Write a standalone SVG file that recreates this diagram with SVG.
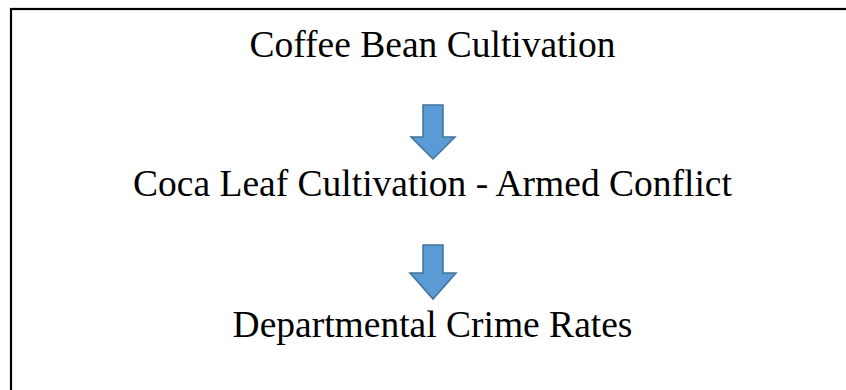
<svg xmlns="http://www.w3.org/2000/svg" width="846" height="390" viewBox="0 0 846 390">
<style>
.t{font-family:"Liberation Serif","Times New Roman",serif;font-size:37.5px;fill:#000;text-anchor:middle}
.arr{fill:#5B9BD5;stroke:#41719C;stroke-width:1.5;stroke-linejoin:miter}
</style>
<rect width="846" height="390" fill="#fff"/>
<rect x="11" y="9" width="850" height="400" fill="none" stroke="#000" stroke-width="2.2"/>
<g id="n1"><text class="t" x="432.5" y="57">Coffee Bean Cultivation</text></g>
<g id="n2"><text class="t" x="432.5" y="196">Coca Leaf Cultivation - Armed Conflict</text></g>
<g id="n3"><text class="t" x="432.5" y="337">Departmental Crime Rates</text></g>
<g id="connectors">
<path class="arr" d="M423,105 H443 V137 H455 L433,159 L411,137 H423 Z"/>
<path class="arr" d="M423,245 H443 V273 H456 L433,299 L410,273 H423 Z"/>
</g>
</svg>
